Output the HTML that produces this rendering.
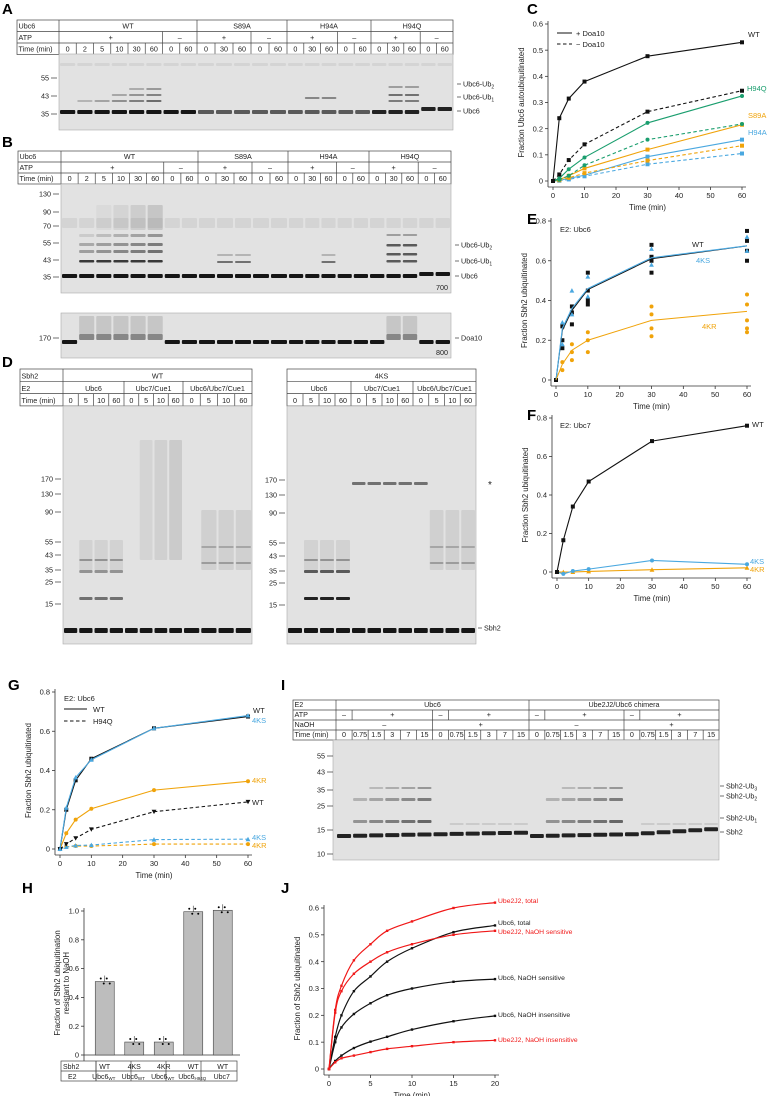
<!DOCTYPE html>
<html><head><meta charset="utf-8"><style>
html,body{margin:0;padding:0;background:#fff;}
svg{display:block;font-family:"Liberation Sans",Arial,sans-serif;}
</style></head><body>
<svg id="fig" xmlns="http://www.w3.org/2000/svg" width="769" height="1096" viewBox="0 0 769 1096"></svg>
<script>
// ===== Chart data =====
const timesC = [0,2,5,10,30,60];
const cWTplus = [0,0.24,0.315,0.38,0.477,0.53];
const cWTminus = [0,0.025,0.08,0.14,0.265,0.345];
const cH94Qplus = [0,0.01,0.045,0.09,0.222,0.325];
const cH94Qminus = [0,0.005,0.02,0.06,0.158,0.218];
const cS89Aplus = [0,0.005,0.02,0.048,0.12,0.215];
const cS89Aminus = [0,0.003,0.012,0.03,0.078,0.135];
const cH94Aplus = [0,0.002,0.01,0.022,0.093,0.158];
const cH94Aminus = [0,0.001,0.006,0.018,0.064,0.105];
const cYTicks = [0,0.1,0.2,0.3,0.4,0.5,0.6];
const xTicks60 = [0,10,20,30,40,50,60];

const eWT = [0,0.25,0.35,0.455,0.61,0.675];
const e4KS = [0,0.26,0.36,0.46,0.615,0.675];
const e4KR = [0,0.08,0.15,0.2,0.3,0.345];
const eWTpts = [[0,0],[2,0.16],[2,0.2],[2,0.27],[5,0.28],[5,0.34],[5,0.37],[10,0.38],[10,0.4],[10,0.45],[10,0.54],[30,0.54],[30,0.6],[30,0.62],[30,0.68],[60,0.6],[60,0.65],[60,0.7],[60,0.75]];
const e4KSpts = [[2,0.18],[2,0.29],[5,0.33],[5,0.45],[10,0.42],[10,0.52],[30,0.58],[30,0.66],[60,0.65],[60,0.72]];
const e4KRpts = [[2,0.05],[2,0.09],[5,0.1],[5,0.14],[5,0.18],[10,0.14],[10,0.2],[10,0.24],[30,0.22],[30,0.26],[30,0.33],[30,0.37],[60,0.24],[60,0.26],[60,0.3],[60,0.38],[60,0.43]];
const eYTicks = [0,0.2,0.4,0.6,0.8];

const fWT = [0,0.165,0.34,0.47,0.68,0.76];
const f4KS = [0,-0.01,0.005,0.015,0.06,0.04];
const f4KR = [0,0,0,0.003,0.012,0.022];

const gWT = [0,0.2,0.35,0.46,0.615,0.675];
const g4KS = [0,0.21,0.365,0.455,0.615,0.68];
const g4KR = [0,0.08,0.15,0.205,0.3,0.345];
const gH94QWT = [0,0.025,0.055,0.1,0.19,0.24];
const gH94Q4KS = [0,0.01,0.018,0.02,0.048,0.05];
const gH94Q4KR = [0,0.01,0.015,0.015,0.025,0.025];

const hCats = ["WT","4KS","4KR","WT","WT"];
const hE2 = ["Ubc6","Ubc6","Ubc6","Ubc6","Ubc7"];
const hE2sub = ["WT","WT","WT","H94Q",""];
const hVals = [0.51,0.09,0.09,0.995,1.005];
const hYTicks = [0,0.2,0.4,0.6,0.8,1.0];

const timesJ = [0,0.75,1.5,3,5,7,10,15,20];
const jJ2total = [0,0.22,0.31,0.405,0.465,0.515,0.55,0.6,0.62];
const jU6total = [0,0.12,0.2,0.29,0.345,0.4,0.45,0.51,0.535];
const jJ2sens = [0,0.21,0.29,0.355,0.4,0.435,0.465,0.5,0.515];
const jU6sens = [0,0.1,0.155,0.205,0.245,0.275,0.3,0.325,0.335];
const jU6ins = [0,0.03,0.05,0.078,0.102,0.12,0.147,0.178,0.198];
const jJ2ins = [0,0.025,0.04,0.05,0.063,0.075,0.085,0.1,0.107];
const jYTicks = [0,0.1,0.2,0.3,0.4,0.5,0.6];
const jXTicks = [0,5,10,15,20];

const BLACK="#111", GREEN="#1a9e6e", ORANGE="#f0a30a", BLUE="#4aa8e0", RED="#f01818";
const NS="http://www.w3.org/2000/svg";
const svg=document.getElementById('fig');
function mk(tag,attrs,parent){const e=document.createElementNS(NS,tag);for(const k in attrs)e.setAttribute(k,attrs[k]);(parent||svg).appendChild(e);return e;}
function txt(x,y,s,size,attrs,parent){const t=mk('text',Object.assign({x:x,y:y,'font-size':size,fill:'#222'},attrs||{}),parent);t.textContent=s;return t;}

// panel letters
[["A",2,14],["B",2,147],["C",527,14],["D",2,367],["E",527,224],["F",527,420],["G",8,690],["H",22,893],["I",281,690],["J",281,893]].forEach(p=>{
  const t=txt(p[1],p[2],p[0],15,{'font-weight':'bold',fill:'#000'});
  
  
});

// ===== Tables =====
function laneEdges(groups){const e=[];groups.forEach((g,gi)=>{for(let i=0;i<g[2];i++){if(gi>0&&i===0)continue;e.push(g[0]+(g[1]-g[0])*i/g[2]);}});e.push(groups[groups.length-1][1]);
  // fix: ensure group starts included
  const out=[];groups.forEach(g=>{for(let i=0;i<g[2];i++)out.push(g[0]+(g[1]-g[0])*i/g[2]);});out.push(groups[groups.length-1][1]);return out;}
function drawTable(name,x0,edges,rows,y0,rh){
  const g=mk('g',{});
  
  
  const x1=edges[edges.length-1];
  mk('rect',{x:x0,y:y0,width:x1-x0,height:rh*rows.length,fill:'none',stroke:'#444','stroke-width':0.7},g);
  if(x0<edges[0]-1) mk('line',{x1:edges[0],y1:y0,x2:edges[0],y2:y0+rh*rows.length,stroke:'#444','stroke-width':0.7},g);
  rows.forEach((r,ri)=>{
    const y=y0+ri*rh;
    if(ri>0) mk('line',{x1:x0,y1:y,x2:x1,y2:y,stroke:'#444','stroke-width':0.7},g);
    if(r.label) txt(x0+1.5,y+rh-2.8,r.label,7.2,{},g);
    r.cells.forEach((c,ci)=>{
      const xa=edges[c[0]], xb=edges[c[1]+1];
      if(c[0]>0) mk('line',{x1:xa,y1:y,x2:xa,y2:y+rh,stroke:'#444','stroke-width':0.7},g);
      txt((xa+xb)/2,y+rh-2.8,c[2],7.2,{'text-anchor':'middle'},g);
    });
  });
  return g;
}
function timeCells(arr){return arr.map((t,i)=>[i,i,String(t)]);}
// A & B
const tA=["0","2","5","10","30","60","0","60","0","30","60","0","60","0","30","60","0","60","0","30","60","0","60"];
function abRows(){return [
 {label:"Ubc6",cells:[[0,7,"WT"],[8,12,"S89A"],[13,17,"H94A"],[18,22,"H94Q"]]},
 {label:"ATP",cells:[[0,5,"+"],[6,7,"–"],[8,10,"+"],[11,12,"–"],[13,15,"+"],[16,17,"–"],[18,20,"+"],[21,22,"–"]]},
 {label:"Time (min)",cells:timeCells(tA)}];}
const edgesA=laneEdges([[59,197,8],[197,287,5],[287,371,5],[371,453,5]]);
drawTable('table-a',17,edgesA,abRows(),20,11.5);
const edgesB=laneEdges([[61,198,8],[198,288,5],[288,369,5],[369,451,5]]);
drawTable('table-b',18,edgesB,abRows(),151,11);

// D
const tD=["0","5","10","60","0","5","10","60","0","5","10","60"];
const edgesDL=laneEdges([[63,124,4],[124,183,4],[183,252,4]]);
drawTable('table-d-wt',20,edgesDL,[
 {label:"Sbh2",cells:[[0,11,"WT"]]},
 {label:"E2",cells:[[0,3,"Ubc6"],[4,7,"Ubc7/Cue1"],[8,11,"Ubc6/Ubc7/Cue1"]]},
 {label:"Time (min)",cells:timeCells(tD)}],369,12.3);
const edgesDR=laneEdges([[287,351,4],[351,413,4],[413,476,4]]);
drawTable('table-d-4ks',287,edgesDR,[
 {label:"",cells:[[0,11,"4KS"]]},
 {label:"",cells:[[0,3,"Ubc6"],[4,7,"Ubc7/Cue1"],[8,11,"Ubc6/Ubc7/Cue1"]]},
 {label:"",cells:timeCells(tD)}],369,12.3);
// I
const tI=["0","0.75","1.5","3","7","15","0","0.75","1.5","3","7","15","0","0.75","1.5","3","7","15","0","0.75","1.5","3","7","15"];
const edgesI=laneEdges([[336,529,12],[529,719,12]]);
drawTable('table-i',293,edgesI,[
 {label:"E2",cells:[[0,11,"Ubc6"],[12,23,"Ube2J2/Ubc6 chimera"]]},
 {label:"ATP",cells:[[0,0,"–"],[1,5,"+"],[6,6,"–"],[7,11,"+"],[12,12,"–"],[13,17,"+"],[18,18,"–"],[19,23,"+"]]},
 {label:"NaOH",cells:[[0,5,"–"],[6,11,"+"],[12,17,"–"],[18,23,"+"]]},
 {label:"Time (min)",cells:timeCells(tI)}],700,10);

// ===== Gels =====
function gel(name,x,y,w,h){const r=mk('rect',{x:x,y:y,width:w,height:h,fill:'#e2e2e2',stroke:'#aaa','stroke-width':0.6});return r;}
function band(x,y,w,h,op,col){mk('rect',{x:x,y:y,width:w,height:h,rx:1,fill:col||'#000',opacity:op});}
function marker(xr,y,label){mk('line',{x1:xr-6,y1:y,x2:xr,y2:y,stroke:'#333','stroke-width':0.7});txt(xr-8,y+2.5,label,7.2,{'text-anchor':'end'});}
function rlabel(x,y,label,sub){mk('line',{x1:x,y1:y,x2:x+4,y2:y,stroke:'#333','stroke-width':0.7});const t=txt(x+6,y+2.5,label,7.2);if(sub){const s=mk('tspan',{'font-size':5,dy:2},t);s.textContent=sub;}}
function laneC(edges,i){return [(edges[i]+1),(edges[i+1]-edges[i]-2)];}
// A gel
gel('gel-a',59,54,394,76);
for(let i=0;i<23;i++){const [lx,lw]=laneC(edgesA,i);const dark=(i<8)?0.9:(i<18?0.6:0.85);band(lx,110-(i>20?3:0),lw,4,dark);
  band(lx,63,lw,3,0.06);}
[1,2,3,4,5].forEach((i,k)=>{const [lx,lw]=laneC(edgesA,i);band(lx,100,lw,2,0.2+0.08*k);if(k>1)band(lx,94,lw,2,0.1+0.08*k);if(k>2)band(lx,88,lw,2,0.08*k);});
[19,20].forEach(i=>{const [lx,lw]=laneC(edgesA,i);band(lx,100,lw,2,0.45);band(lx,94,lw,2,0.5);band(lx,86,lw,2,0.3);});
[14,15].forEach(i=>{const [lx,lw]=laneC(edgesA,i);band(lx,97,lw,2,0.4);});
marker(57,78,"55");marker(57,96,"43");marker(57,114,"35");
rlabel(457,84,"Ubc6-Ub","2");rlabel(457,97,"Ubc6-Ub","1");rlabel(457,111,"Ubc6");
// B gel
gel('gel-b',61,184,390,109);
for(let i=0;i<23;i++){const [lx,lw]=laneC(edgesB,i);band(lx,274-(i>20?2:0),lw,4,0.9);band(lx,218,lw,10,0.06);}
[1,2,3,4,5].forEach((i,k)=>{const [lx,lw]=laneC(edgesB,i);band(lx,260,lw,2.5,0.75);band(lx,250,lw,3,0.3+0.05*k);band(lx,243,lw,3,0.25+0.05*k);band(lx,234,lw,3,0.1+0.06*k);band(lx,205,lw,25,0.03*k);});
[19,20].forEach(i=>{const [lx,lw]=laneC(edgesB,i);band(lx,260,lw,2.5,0.6);band(lx,253,lw,2.5,0.6);band(lx,244,lw,2.5,0.6);band(lx,234,lw,2,0.3);});
[9,10,15].forEach(i=>{const [lx,lw]=laneC(edgesB,i);band(lx,261,lw,2,0.5);band(lx,254,lw,2,0.2);});
marker(59,194,"130");marker(59,212,"90");marker(59,226,"70");marker(59,243,"55");marker(59,260,"43");marker(59,277,"35");
rlabel(455,245,"Ubc6-Ub","2");rlabel(455,261,"Ubc6-Ub","1");rlabel(455,276,"Ubc6");
txt(448,290,"700",7.2,{'text-anchor':'end'});
gel('gel-b-doa10',61,313,390,45);
for(let i=0;i<23;i++){const [lx,lw]=laneC(edgesB,i);const sm=(i>=1&&i<=5)||i===19||i===20;band(lx,sm?334:340,lw,sm?6:4,sm?0.4:0.9);if(sm)band(lx,316,lw,18,0.12);}
marker(59,338,"170");rlabel(455,338,"Doa10");txt(448,355,"800",7.2,{'text-anchor':'end'});
// D gels
gel('gel-d-wt',63,406,189,238);gel('gel-d-4ks',287,406,189,238);
function dLanes(edges,strong){for(let i=0;i<12;i++){const [lx,lw]=laneC(edges,i);band(lx,628,lw,5,0.9);
  if(i===1||i===2||i===3){band(lx,597,lw,3,strong?0.85:0.5);band(lx,570,lw,3,strong?0.6:0.35);band(lx,559,lw,2,0.3);band(lx,540,lw,30,0.07);}
  if(i>=5&&i<=7&&!strong){band(lx,440,lw,120,0.06+0.02*(i-5));}
  if(i>=9){band(lx,510,lw,60,0.08);band(lx,546,lw,2,0.2);band(lx,562,lw,2,0.25);}
  if(strong&&i>=4&&i<=8)band(lx,482,lw,3,0.5);}
}
dLanes(edgesDL,false);dLanes(edgesDR,true);
[["170",479],["130",494],["90",512],["55",542],["43",555],["35",570],["25",582],["15",604]].forEach(m=>{marker(61,m[1],m[0]);marker(285,m[1]+1,m[0]);});
txt(488,488,"*",10);rlabel(478,628,"Sbh2");
// I gel
gel('gel-i',333,740,386,120);
for(let i=0;i<24;i++){const [lx,lw]=laneC(edgesI,i);band(lx,834-(i%12)*0.3-(i>=18?(i-18)*0.7:0),lw,4,0.85);
  const k=i%6; const naoh=(i>=6&&i<12)||i>=18;
  if(k>0&&!naoh){band(lx,820,lw,3,0.3+0.05*k);band(lx,798,lw,3,0.15+0.06*k);if(k>1)band(lx,787,lw,2,0.08+0.05*k);}
  if(k>0&&naoh)band(lx,823,lw,2,0.1);}
[["55",756],["43",772],["35",790],["25",806],["15",830],["10",854]].forEach(m=>marker(333,m[1],m[0]));
rlabel(720,786,"Sbh2-Ub","3");rlabel(720,796,"Sbh2-Ub","2");rlabel(720,818,"Sbh2-Ub","1");rlabel(720,832,"Sbh2");

// ===== Charts =====
function axes(name,px0,px1,py0,py1,xmin,xmax,ymin,ymax,xt,yt,yfmt,ylabel,ylabel2){
  const sx=v=>px0+(v-xmin)/(xmax-xmin)*(px1-px0), sy=v=>py0-(v-ymin)/(ymax-ymin)*(py0-py1);
  const g=mk('g',{});
  
  
  const ax=px0-5, ay=py0+6;
  mk('line',{x1:ax,y1:py1-3,x2:ax,y2:ay,stroke:'#333','stroke-width':0.8},g);
  if(xt){mk('line',{x1:ax,y1:ay,x2:px1+4,y2:ay,stroke:'#333','stroke-width':0.8},g);
    xt.forEach(v=>{mk('line',{x1:sx(v),y1:ay,x2:sx(v),y2:ay+3,stroke:'#333','stroke-width':0.8},g);txt(sx(v),ay+11,String(v),7.5,{'text-anchor':'middle'},g);});
    txt((px0+px1)/2,ay+23,"Time (min)",7.8,{'text-anchor':'middle'},g);}
  yt.forEach(v=>{mk('line',{x1:ax-3,y1:sy(v),x2:ax,y2:sy(v),stroke:'#333','stroke-width':0.8},g);txt(ax-5,sy(v)+2.6,yfmt(v),7.5,{'text-anchor':'end'},g);});
  const lx=ax-24, ly=(py0+py1)/2;
  txt(lx,ly,ylabel,7.8,{'text-anchor':'middle',transform:`rotate(-90 ${lx} ${ly})`},g);
  if(ylabel2) txt(lx+9,ly,ylabel2,7.8,{'text-anchor':'middle',transform:`rotate(-90 ${lx+9} ${ly})`},g);
  return {sx,sy,g};
}
const f1=v=>v===0?"0":v.toFixed(1);
function series(ax,xs,ys,color,dash,shape,name){
  const g=mk('g',{},ax.g);
  
  
  mk('polyline',{points:xs.map((x,i)=>ax.sx(x)+','+ax.sy(ys[i])).join(' '),fill:'none',stroke:color,'stroke-width':1.1,'stroke-dasharray':dash?'3.5,2.5':'none'},g);
  xs.forEach((x,i)=>marker2(g,ax.sx(x),ax.sy(ys[i]),color,shape));
}
function marker2(g,x,y,color,shape){
  if(shape==='sq')mk('rect',{x:x-2,y:y-2,width:4,height:4,fill:color},g);
  else if(shape==='tri')mk('polygon',{points:`${x},${y-2.4} ${x-2.4},${y+2} ${x+2.4},${y+2}`,fill:color},g);
  else if(shape==='tdown')mk('polygon',{points:`${x},${y+2.4} ${x-2.4},${y-2} ${x+2.4},${y-2}`,fill:color},g);
  else mk('circle',{cx:x,cy:y,r:2,fill:color},g);
}
// C
const axC=axes('chart-c',553,742,181,24,0,60,0,0.6,xTicks60,cYTicks,f1,"Fraction Ubc6 autoubiquitinated");
series(axC,timesC,cH94Aminus,BLUE,true,'sq','series-h94a-minus');
series(axC,timesC,cH94Aplus,BLUE,false,'sq','series-h94a-plus');
series(axC,timesC,cS89Aminus,ORANGE,true,'sq','series-s89a-minus');
series(axC,timesC,cS89Aplus,ORANGE,false,'sq','series-s89a-plus');
series(axC,timesC,cH94Qminus,GREEN,true,'circ','series-h94q-minus');
series(axC,timesC,cH94Qplus,GREEN,false,'circ','series-h94q-plus');
series(axC,timesC,cWTminus,BLACK,true,'sq','series-wt-minus');
series(axC,timesC,cWTplus,BLACK,false,'sq','series-wt-plus');
mk('line',{x1:557,y1:33,x2:572,y2:33,stroke:'#111','stroke-width':1});txt(576,36,"+ Doa10",7.5);
mk('line',{x1:557,y1:44,x2:572,y2:44,stroke:'#111','stroke-width':1,'stroke-dasharray':'3.5,2.5'});txt(576,47,"− Doa10",7.5);
txt(748,37,"WT",7.5);txt(747,91,"H94Q",7.5,{fill:GREEN});txt(748,118,"S89A",7.5,{fill:ORANGE});txt(748,135,"H94A",7.5,{fill:BLUE});
// E
const axE=axes('chart-e',556,747,380,221,0,60,0,0.8,xTicks60,eYTicks,f1,"Fraction Sbh2 ubiquitinated");
const eg=mk('g',{},axE.g);


eWTpts.forEach(p=>marker2(eg,axE.sx(p[0]),axE.sy(p[1]),BLACK,'sq'));
e4KSpts.forEach(p=>marker2(eg,axE.sx(p[0]),axE.sy(p[1]),BLUE,'tri'));
e4KRpts.forEach(p=>marker2(eg,axE.sx(p[0]),axE.sy(p[1]),ORANGE,'circ'));
mk('polyline',{points:timesC.map((x,i)=>axE.sx(x)+','+axE.sy(eWT[i])).join(' '),fill:'none',stroke:BLACK,'stroke-width':1});
mk('polyline',{points:timesC.map((x,i)=>axE.sx(x)+','+axE.sy(e4KS[i])).join(' '),fill:'none',stroke:BLUE,'stroke-width':1.1});
mk('polyline',{points:timesC.map((x,i)=>axE.sx(x)+','+axE.sy(e4KR[i])).join(' '),fill:'none',stroke:ORANGE,'stroke-width':1});
txt(560,232,"E2: Ubc6",7.5);txt(692,247,"WT",7.5);txt(696,263,"4KS",7.5,{fill:BLUE});txt(702,329,"4KR",7.5,{fill:ORANGE});
// F
const axF=axes('chart-f',557,747,572,418,0,60,0,0.8,xTicks60,eYTicks,f1,"Fraction Sbh2 ubiquitinated");
series(axF,timesC,f4KR,ORANGE,false,'tri','series-4kr');
series(axF,timesC,f4KS,BLUE,false,'circ','series-4ks');
series(axF,timesC,fWT,BLACK,false,'sq','series-wt');
txt(560,428,"E2: Ubc7",7.5);txt(752,427,"WT",7.5);txt(750,564,"4KS",7.5,{fill:BLUE});txt(750,572,"4KR",7.5,{fill:ORANGE});
// G
const axG=axes('chart-g',60,248,849,692,0,60,0,0.8,xTicks60,eYTicks,f1,"Fraction Sbh2 ubiquitinated");
series(axG,timesC,gH94Q4KR,ORANGE,true,'circ','series-h94q-4kr');
series(axG,timesC,gH94Q4KS,BLUE,true,'tri','series-h94q-4ks');
series(axG,timesC,gH94QWT,BLACK,true,'tdown','series-h94q-wt');
series(axG,timesC,g4KR,ORANGE,false,'circ','series-wt-4kr');
series(axG,timesC,gWT,BLACK,false,'sq','series-wt-wt');
series(axG,timesC,g4KS,BLUE,false,'tri','series-wt-4ks');
txt(64,701,"E2: Ubc6",7.5);
mk('line',{x1:64,y1:709,x2:87,y2:709,stroke:'#111','stroke-width':1});txt(93,712,"WT",7.5);
mk('line',{x1:64,y1:721,x2:87,y2:721,stroke:'#111','stroke-width':1,'stroke-dasharray':'3.5,2.5'});txt(93,724,"H94Q",7.5);
txt(253,713,"WT",7.5);txt(252,723,"4KS",7.5,{fill:BLUE});txt(252,783,"4KR",7.5,{fill:ORANGE});txt(252,805,"WT",7.5);txt(252,840,"4KS",7.5,{fill:BLUE});txt(252,848,"4KR",7.5,{fill:ORANGE});
// H
const hX0=90,hBand=29.5;
const axH=axes('chart-h',89,240,1055,911,0,1,0,1.0,null,hYTicks,f1,"Fraction of Sbh2 ubiquitination","resistant to NaOH");
mk('line',{x1:84,y1:1055,x2:240,y2:1055,stroke:'#333','stroke-width':0.8},axH.g);
const sy0=v=>1055-v*144;
hVals.forEach((v,i)=>{const cx=hX0+hBand*(i+0.5);
  const b=mk('rect',{x:cx-9.5,y:sy0(v),width:19,height:sy0(0)-sy0(v),fill:'#bdbdbd',stroke:'#444','stroke-width':0.6});
  
  
  mk('line',{x1:cx,y1:sy0(v)-6,x2:cx,y2:sy0(v),stroke:'#333','stroke-width':0.6});
  [-4,-1,2,5].forEach((d,k)=>mk('circle',{cx:cx+d,cy:sy0(v)+(k%2?2:-3),r:1,fill:'#000'}));
});
const hEdges=[61,96,131,166,201,237];
const ht=mk('g',{});


mk('rect',{x:61,y:1061,width:176,height:20,fill:'none',stroke:'#444','stroke-width':0.7},ht);
mk('line',{x1:61,y1:1071,x2:237,y2:1071,stroke:'#444','stroke-width':0.7},ht);
txt(63,1069,"Sbh2",7);txt(68,1079,"E2",7);
hCats.forEach((c,i)=>{mk('line',{x1:hEdges[i]+ (i===0?35:0),y1:1061,x2:hEdges[i]+(i===0?35:0),y2:1081,stroke:'#444','stroke-width':0.7},ht);});
hCats.forEach((c,i)=>{const cx=hX0+hBand*(i+0.5);txt(cx,1069,c,7,{'text-anchor':'middle'},ht);const t=txt(cx-1,1079,hE2[i],7,{'text-anchor':'middle'},ht);if(hE2sub[i]){const s=mk('tspan',{'font-size':4.5,dy:1},t);s.textContent=hE2sub[i];}});
// J
const axJ=axes('chart-j',329,495,1069,908,0,20,0,0.6,jXTicks,jYTicks,f1,"Fraction of Sbh2 ubiquitinated");
function smooth(ax,xs,ys,color,name){
  const g=mk('g',{},ax.g);
  
  
  const P=xs.map((x,i)=>[ax.sx(x),ax.sy(ys[i])]);
  let d=`M${P[0][0]},${P[0][1]}`;
  for(let i=0;i<P.length-1;i++){const p0=P[Math.max(0,i-1)],p1=P[i],p2=P[i+1],p3=P[Math.min(P.length-1,i+2)];
    d+=` C${p1[0]+(p2[0]-p0[0])/6},${p1[1]+(p2[1]-p0[1])/6} ${p2[0]-(p3[0]-p1[0])/6},${p2[1]-(p3[1]-p1[1])/6} ${p2[0]},${p2[1]}`;}
  mk('path',{d:d,fill:'none',stroke:color,'stroke-width':1.2},g);
  P.forEach(p=>{mk('rect',{x:p[0]-1.2,y:p[1]-1.2,width:2.4,height:2.4,fill:color},g);});
}
smooth(axJ,timesJ,jU6total,BLACK,'curve-ubc6-total');
smooth(axJ,timesJ,jU6sens,BLACK,'curve-ubc6-sensitive');
smooth(axJ,timesJ,jU6ins,BLACK,'curve-ubc6-insensitive');
smooth(axJ,timesJ,jJ2total,RED,'curve-ube2j2-total');
smooth(axJ,timesJ,jJ2sens,RED,'curve-ube2j2-sensitive');
smooth(axJ,timesJ,jJ2ins,RED,'curve-ube2j2-insensitive');
txt(498,903,"Ube2J2, total",6.8,{fill:RED});
txt(498,925,"Ubc6, total",6.8);
txt(498,934,"Ube2J2, NaOH sensitive",6.8,{fill:RED});
txt(498,980,"Ubc6, NaOH sensitive",6.8);
txt(498,1017,"Ubc6, NaOH insensitive",6.8);
txt(498,1042,"Ube2J2, NaOH insensitive",6.8,{fill:RED});
</script>
</body></html>
